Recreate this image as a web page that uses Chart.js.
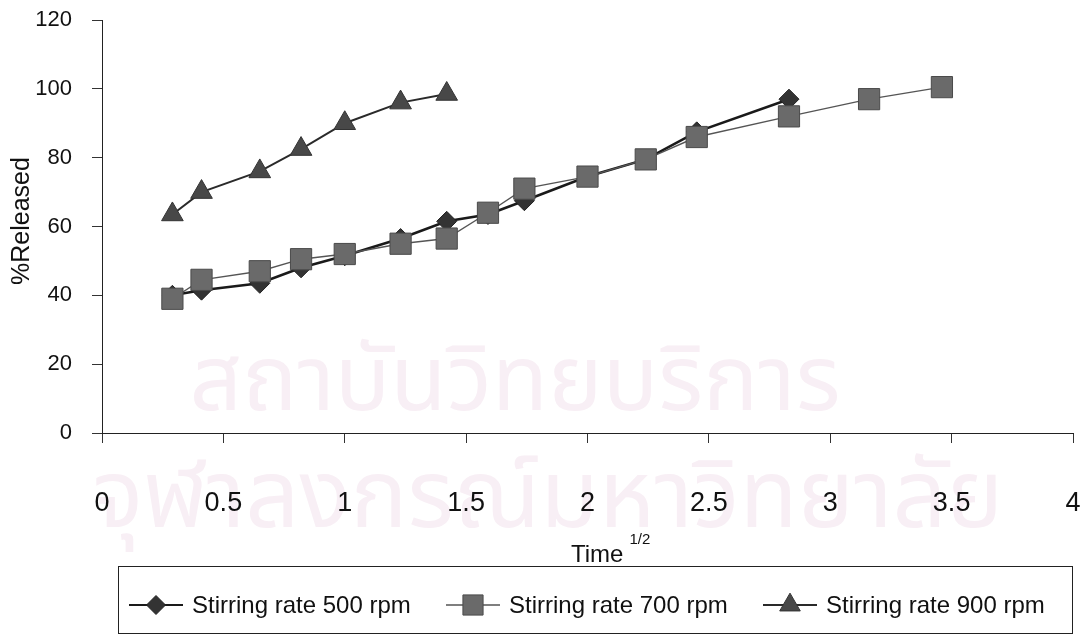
<!DOCTYPE html>
<html>
<head>
<meta charset="utf-8">
<script src="https://cdn.jsdelivr.net/npm/chart.js@4/dist/chart.umd.min.js"></script>
<style>
  html, body { margin: 0; padding: 0; background: #fff; }
  #wrap { width: 1090px; height: 639px; }
</style>
</head>
<body>
<div id="wrap"><canvas id="chart" width="1090" height="639"></canvas></div>
<script>
// sqrt(time) values and % released for each stirring rate
const time500 = [0.29, 0.41, 0.65, 0.82, 1.0, 1.23, 1.42, 1.59, 1.74, 2.0, 2.24, 2.45, 2.83];
const rel500  = [40, 41.5, 43.5, 48, 51.5, 56.5, 61.5, 63.5, 67.5, 74.5, 79.5, 87.5, 97];

const time700 = [0.29, 0.41, 0.65, 0.82, 1.0, 1.23, 1.42, 1.59, 1.74, 2.0, 2.24, 2.45, 2.83, 3.16, 3.46];
const rel700  = [39, 44.5, 47, 50.5, 52, 55, 56.5, 64, 71, 74.5, 79.5, 86, 92, 97, 100.5];

const time900 = [0.29, 0.41, 0.65, 0.82, 1.0, 1.23, 1.42];
const rel900  = [63.5, 70, 76, 82.5, 90, 96, 98.5];

const seriesNames = ['Stirring rate 500 rpm', 'Stirring rate 700 rpm', 'Stirring rate 900 rpm'];
const watermarkLines = ['สถาบันวิทยบริการ', 'จุฬาลงกรณ์มหาวิทยาลัย'];

const FONT = '"Liberation Sans", Arial, sans-serif';

function toPoints(xs, ys) {
    return xs.map((x, i) => ({ x: x, y: ys[i] }));
}

// faint background text printed behind the plot
const watermark = {
    id: 'watermark',
    beforeDraw(chart) {
        const ctx = chart.ctx;
        ctx.save();
        ctx.fillStyle = '#f8eff5';
        ctx.textAlign = 'center';
        ctx.textBaseline = 'alphabetic';
        ctx.font = '92px "Noto Sans Thai", "Noto Sans", "DejaVu Sans", sans-serif';
        ctx.fillText(watermarkLines[0], 515, 410);
        ctx.font = '95px "Noto Sans Thai", "Noto Sans", "DejaVu Sans", sans-serif';
        ctx.fillText(watermarkLines[1], 548, 527);
        ctx.restore();
    }
};

// axis titles and the boxed legend at the bottom
const extras = {
    id: 'extras',
    afterDraw(chart) {
        const ctx = chart.ctx;
        ctx.save();
        ctx.fillStyle = '#111';

        // y title
        ctx.font = '25px ' + FONT;
        ctx.textAlign = 'center';
        ctx.textBaseline = 'middle';
        ctx.translate(22, 221);
        ctx.rotate(-Math.PI / 2);
        ctx.fillText('%Released', 0, 0);
        ctx.setTransform(1, 0, 0, 1, 0, 0);

        // x title with superscript
        ctx.textAlign = 'left';
        ctx.textBaseline = 'alphabetic';
        ctx.font = '24px ' + FONT;
        const tw = ctx.measureText('Time').width;
        const tx = 571;
        ctx.fillText('Time', tx, 562);
        ctx.font = '15px ' + FONT;
        ctx.fillText('1/2', tx + tw + 6, 544);

        // legend box
        ctx.strokeStyle = '#222';
        ctx.lineWidth = 1;
        ctx.strokeRect(118.5, 566.5, 954, 67);

        const ds = chart.data.datasets;
        const itemX = [129, 446, 763];
        const cy = 605;
        ctx.font = '24px ' + FONT;
        ctx.textBaseline = 'middle';
        ds.forEach((d, i) => {
            const x0 = itemX[i];
            ctx.strokeStyle = d.borderColor;
            ctx.lineWidth = Math.min(d.borderWidth, 1.8);
            ctx.beginPath();
            ctx.moveTo(x0, cy);
            ctx.lineTo(x0 + 54, cy);
            ctx.stroke();
            ctx.fillStyle = d.pointBackgroundColor;
            ctx.strokeStyle = d.pointBorderColor;
            ctx.lineWidth = 1;
            Chart.helpers.drawPoint(ctx, {
                pointStyle: d.pointStyle,
                radius: d.pointRadius * 0.95,
                rotation: 0,
                borderWidth: 1
            }, x0 + 27, cy);
            ctx.fillStyle = '#111';
            ctx.fillText(d.label, x0 + 63, cy + 1);
        });
        ctx.restore();
    }
};

const ctx = document.getElementById('chart').getContext('2d');
new Chart(ctx, {
    type: 'scatter',
    data: {
        datasets: [
            {
                label: seriesNames[0],
                data: toPoints(time500, rel500),
                order: 1,
                showLine: true,
                borderColor: '#1a1a1a',
                borderWidth: 2.6,
                pointStyle: 'rectRot',
                pointRadius: 10,
                pointBackgroundColor: '#333',
                pointBorderColor: '#222',
                pointBorderWidth: 1
            },
            {
                label: seriesNames[1],
                data: toPoints(time700, rel700),
                order: 0,
                showLine: true,
                borderColor: '#555',
                borderWidth: 1.4,
                pointStyle: 'rect',
                pointRadius: 15,
                pointBackgroundColor: '#6a6a6a',
                pointBorderColor: '#4a4a4a',
                pointBorderWidth: 1
            },
            {
                label: seriesNames[2],
                data: toPoints(time900, rel900),
                order: 2,
                showLine: true,
                borderColor: '#2a2a2a',
                borderWidth: 2,
                pointStyle: 'triangle',
                pointRadius: 12.5,
                pointBackgroundColor: '#484848',
                pointBorderColor: '#333',
                pointBorderWidth: 1
            }
        ]
    },
    options: {
        responsive: false,
        animation: false,
        layout: { padding: { left: 0, right: 17, top: 20, bottom: 0 } },
        plugins: {
            legend: { display: false },
            tooltip: { enabled: false }
        },
        scales: {
            x: {
                type: 'linear',
                min: 0,
                max: 4,
                ticks: {
                    stepSize: 0.5,
                    padding: 44,
                    color: '#111',
                    font: { family: FONT, size: 27 },
                    callback: (v) => String(v)
                },
                grid: {
                    drawOnChartArea: false,
                    drawTicks: true,
                    tickLength: 10,
                    color: '#333'
                },
                border: { display: true, color: '#222', width: 1 },
                afterFit(scale) {
                    scale.height = 206;
                    scale.paddingLeft = 0;
                    scale.paddingRight = 0;
                }
            },
            y: {
                min: 0,
                max: 120,
                ticks: {
                    stepSize: 20,
                    padding: 20,
                    color: '#111',
                    font: { family: FONT, size: 22 }
                },
                grid: {
                    drawOnChartArea: false,
                    drawTicks: true,
                    tickLength: 10,
                    color: '#333'
                },
                border: { display: true, color: '#222', width: 1 },
                afterFit(scale) {
                    scale.width = 102;
                    scale.paddingTop = 0;
                    scale.paddingBottom = 0;
                }
            }
        }
    },
    plugins: [watermark, extras]
});
</script>
</body>
</html>
